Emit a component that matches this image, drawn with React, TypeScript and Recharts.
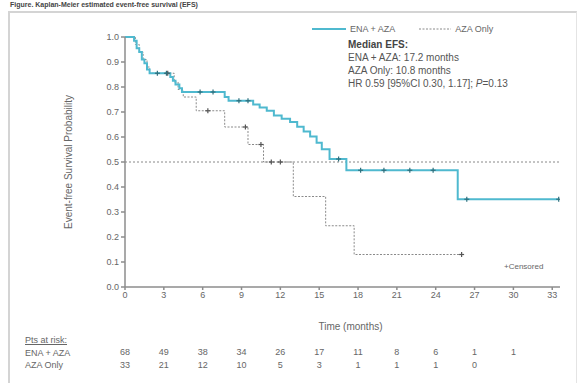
import React from 'react';
import { ComposedChart, Line, XAxis, YAxis, ReferenceLine, Legend } from 'recharts';

// KM step points: [time (months), survival probability]
const enaAzaSteps = [
  [0, 1.0], [0.7, 0.985], [0.9, 0.955], [1.1, 0.94], [1.3, 0.91], [1.5, 0.895], [1.7, 0.87], [1.9, 0.855],
  [3.5, 0.84], [3.7, 0.825], [3.9, 0.81], [4.2, 0.795], [4.4, 0.78], [7.7, 0.76], [8.0, 0.745],
  [9.9, 0.73], [10.4, 0.718], [10.95, 0.705], [11.5, 0.686], [12.1, 0.673], [12.75, 0.66], [13.3, 0.641],
  [13.8, 0.622], [14.3, 0.602], [14.8, 0.577], [15.2, 0.551], [15.8, 0.512], [17.1, 0.467],
  [25.7, 0.351], [33.5, 0.351],
];
const azaOnlySteps = [
  [0, 1.0], [0.8, 0.97], [1.1, 0.94], [1.4, 0.91], [1.7, 0.88], [1.9, 0.855], [3.8, 0.82], [4.1, 0.79],
  [4.5, 0.76], [5.5, 0.705], [7.7, 0.64], [9.5, 0.57], [10.7, 0.5], [13.0, 0.362], [15.5, 0.245],
  [17.7, 0.13], [26.0, 0.13],
];
const enaAzaCensored = [
  [2.5, 0.855], [3.2, 0.855], [5.8, 0.78], [6.8, 0.78], [8.8, 0.745], [9.5, 0.745], [16.5, 0.512],
  [18.2, 0.467], [20.0, 0.467], [22.0, 0.467], [23.8, 0.467], [26.4, 0.351], [33.5, 0.351],
];
const azaOnlyCensored = [
  [3.3, 0.855], [6.4, 0.705], [9.3, 0.64], [10.5, 0.57], [11.3, 0.5], [12.0, 0.5], [26.0, 0.13],
];

const xTicks = [0, 3, 6, 9, 12, 15, 18, 21, 24, 27, 30, 33];
const yTicks = [0, 0.1, 0.2, 0.3, 0.4, 0.5, 0.6, 0.7, 0.8, 0.9, 1.0];
const riskEnaAza = [68, 49, 38, 34, 26, 17, 11, 8, 6, 1, 1];
const riskAzaOnly = [33, 21, 12, 10, 5, 3, 1, 1, 1, 0];

const toRows = (arr: number[][]) => arr.map(([t, s]) => ({ t, s }));
// empty rows so the at-risk axes have a series bound to them
const riskAnchor = xTicks.map((t) => ({ t, s: null }));

const FONT = '"Liberation Sans", Arial, sans-serif';
const ENA_COLOR = '#4fb9cf';
const AZA_COLOR = '#8a8a8a';

const Plus = (color: string) => (props: any) => {
  const { cx, cy, index } = props;
  if (cx == null || cy == null) return <g key={index} />;
  return (
    <g key={index}>
      <line x1={cx - 2.5} x2={cx + 2.5} y1={cy} y2={cy} stroke={color} strokeWidth={1.2} />
      <line x1={cx} x2={cx} y1={cy - 2.5} y2={cy + 2.5} stroke={color} strokeWidth={1.2} />
    </g>
  );
};

const riskTick = (values: number[]) => (props: any) => {
  const { x, y, payload } = props;
  const v = values[Math.round(payload.value / 3)];
  if (v === undefined) return <g />;
  return (
    <text x={x} y={y} dy={4} textAnchor="middle" fontSize={9} fill="#666" fontFamily={FONT}>
      {v}
    </text>
  );
};

const LegendContent = () => (
  <div style={{ display: 'flex', alignItems: 'center', fontSize: 9, color: '#666', fontFamily: FONT }}>
    <svg width={34} height={6}><line x1={0} x2={34} y1={3} y2={3} stroke={ENA_COLOR} strokeWidth={2} /></svg>
    <span style={{ marginLeft: 4, marginRight: 24 }}>ENA + AZA</span>
    <svg width={32} height={6}><line x1={0} x2={32} y1={3} y2={3} stroke={AZA_COLOR} strokeWidth={1} strokeDasharray="2 1.5" /></svg>
    <span style={{ marginLeft: 4 }}>AZA Only</span>
  </div>
);

export default function App() {
  return (
    <div style={{ position: 'fixed', left: 0, top: 0, width: 578, height: 383, background: '#fff', overflow: 'hidden', fontFamily: FONT }}>
      <div style={{ position: 'absolute', left: 10, top: 0, fontSize: 7, lineHeight: '9px', fontWeight: 'bold', color: '#444' }}>
        Figure. Kaplan-Meier estimated event-free survival (EFS)
      </div>
      <div style={{ position: 'absolute', left: 8, top: 11, width: 566, height: 380, border: '2px solid #d4d4d4', borderRight: '1px solid #e4e4e4' }} />
      <div style={{ position: 'absolute', left: 0, top: 0 }}>
        <ComposedChart width={578} height={375} margin={{ top: 27, right: 18, left: 60, bottom: 6 }}>
          <XAxis
            xAxisId={0}
            type="number"
            dataKey="t"
            domain={[0, 33.6]}
            ticks={xTicks}
            allowDataOverflow
            height={56}
            tickSize={3}
            tick={{ fontSize: 9, fill: '#666', fontFamily: FONT }}
            stroke="#8c8c8c"
            strokeWidth={1.5}
            label={{ value: 'Time (months)', position: 'insideBottom', offset: 13, dx: 8, fontSize: 10, fill: '#666', fontFamily: FONT }}
          />
          <XAxis
            xAxisId="r1"
            type="number"
            dataKey="t"
            domain={[0, 33.6]}
            ticks={xTicks}
            height={13}
            axisLine={false}
            tickLine={false}
            tick={riskTick(riskEnaAza)}
          />
          <XAxis
            xAxisId="r2"
            type="number"
            dataKey="t"
            domain={[0, 33.6]}
            ticks={xTicks}
            height={13}
            axisLine={false}
            tickLine={false}
            tick={riskTick(riskAzaOnly)}
          />
          <YAxis
            type="number"
            domain={[0, 1]}
            ticks={yTicks}
            width={65}
            tickSize={4}
            tickFormatter={(v: number) => v.toFixed(1)}
            tick={{ fontSize: 9, fill: '#666', fontFamily: FONT }}
            stroke="#8c8c8c"
            strokeWidth={1.5}
            label={{
              content: (p: any) => {
                const vb = p.viewBox;
                const cx = vb.x + 12;
                const cy = vb.y + vb.height / 2;
                return (
                  <text x={cx} y={cy} transform={`rotate(-90 ${cx} ${cy})`} textAnchor="middle" fontSize={10} fill="#666" fontFamily={FONT}>
                    Event-free Survival Probability
                  </text>
                );
              },
            }}
          />
          <ReferenceLine y={0.5} stroke="#888" strokeDasharray="2 2" strokeWidth={1} />
          <Legend verticalAlign="top" wrapperStyle={{ top: 24, left: 312, width: 220 }} content={<LegendContent />} />
          <Line xAxisId="r1" data={riskAnchor} dataKey="s" stroke="none" dot={false} isAnimationActive={false} legendType="none" />
          <Line xAxisId="r2" data={riskAnchor} dataKey="s" stroke="none" dot={false} isAnimationActive={false} legendType="none" />
          <Line data={toRows(azaOnlySteps)} dataKey="s" type="stepAfter" stroke={AZA_COLOR} strokeWidth={1} strokeDasharray="2 1.5" dot={false} isAnimationActive={false} />
          <Line data={toRows(enaAzaSteps)} dataKey="s" type="stepAfter" stroke={ENA_COLOR} strokeWidth={2} dot={false} isAnimationActive={false} />
          <Line data={toRows(azaOnlyCensored)} dataKey="s" stroke="none" dot={Plus('#555')} isAnimationActive={false} legendType="none" />
          <Line data={toRows(enaAzaCensored)} dataKey="s" stroke="none" dot={Plus('#2f6f7c')} isAnimationActive={false} legendType="none" />
        </ComposedChart>
      </div>
      <div style={{ position: 'absolute', left: 348, top: 38, fontSize: 10, lineHeight: '13px', color: '#555' }}>
        <div style={{ fontWeight: 'bold', color: '#444' }}>Median EFS:</div>
        <div>ENA + AZA: 17.2 months</div>
        <div>AZA Only: 10.8 months</div>
        <div>HR 0.59 [95%CI 0.30, 1.17]; <i>P</i>=0.13</div>
      </div>
      <div style={{ position: 'absolute', left: 504, top: 262, fontSize: 8, color: '#666' }}>+Censored</div>
      <div style={{ position: 'absolute', left: 25, top: 334, fontSize: 9, color: '#666', lineHeight: '12.5px' }}>
        <div style={{ textDecoration: 'underline' }}>Pts at risk:</div>
        <div>ENA + AZA</div>
        <div>AZA Only</div>
      </div>
    </div>
  );
}
